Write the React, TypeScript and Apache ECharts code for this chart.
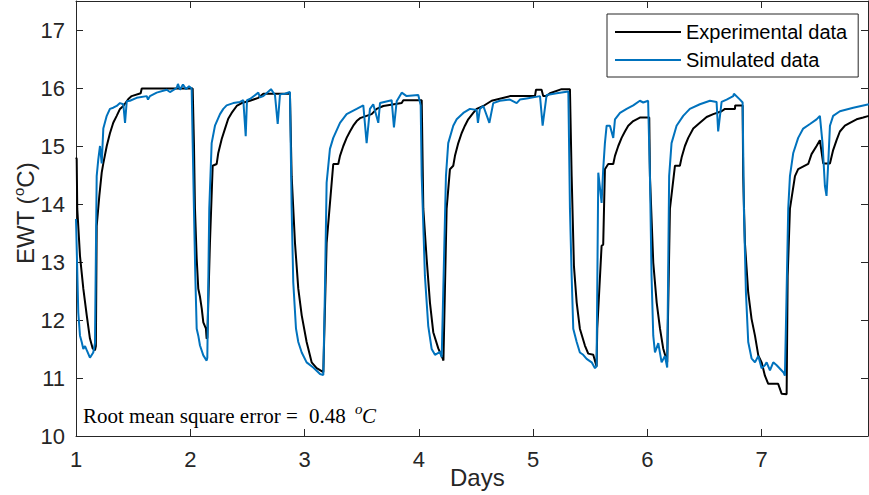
import React, { useEffect, useRef } from "react";
import * as echarts from "echarts";

// Days tick labels and EWT tick labels
const xTicks = [1, 2, 3, 4, 5, 6, 7];
const yTicks = [10, 11, 12, 13, 14, 15, 16, 17];

// Experimental data: [day, EWT °C]
const experimentalData: [number, number][] = [
  [1.0, 14.8], [1.006, 14.78], [1.011, 13.92], [1.035, 13.1], [1.064, 12.54], [1.094, 12.08],
  [1.122, 11.68], [1.146, 11.51], [1.166, 11.48], [1.174, 11.55], [1.181, 13.62], [1.204, 14.14],
  [1.225, 14.54], [1.239, 14.7], [1.269, 15.0], [1.297, 15.22], [1.326, 15.4], [1.356, 15.52],
  [1.385, 15.64], [1.414, 15.69], [1.458, 15.81], [1.487, 15.86], [1.566, 15.91], [1.575, 15.99],
  [2.021, 15.99], [2.032, 15.05], [2.041, 13.92], [2.056, 13.06], [2.07, 12.54], [2.085, 12.4],
  [2.1, 12.2], [2.114, 11.96], [2.137, 11.85], [2.143, 11.68], [2.149, 11.69], [2.172, 13.33],
  [2.196, 14.66], [2.231, 14.69], [2.245, 14.88], [2.275, 15.12], [2.304, 15.3], [2.332, 15.47],
  [2.362, 15.57], [2.406, 15.69], [2.45, 15.74], [2.522, 15.78], [2.595, 15.83], [2.639, 15.9],
  [2.872, 15.9], [2.887, 14.48], [2.916, 13.33], [2.945, 12.54], [2.975, 12.08], [3.018, 11.62],
  [3.062, 11.27], [3.106, 11.17], [3.164, 11.1], [3.193, 13.33], [3.251, 14.69], [3.295, 14.69],
  [3.31, 14.83], [3.339, 15.0], [3.368, 15.14], [3.397, 15.25], [3.426, 15.35], [3.456, 15.43],
  [3.485, 15.48], [3.587, 15.55], [3.631, 15.64], [3.689, 15.69], [3.85, 15.74], [3.864, 15.79],
  [4.025, 15.79], [4.039, 13.92], [4.068, 13.06], [4.097, 12.3], [4.126, 11.79], [4.17, 11.51],
  [4.208, 11.34], [4.215, 11.3], [4.243, 13.92], [4.272, 14.6], [4.301, 14.66], [4.316, 14.83],
  [4.345, 15.05], [4.374, 15.22], [4.403, 15.35], [4.432, 15.46], [4.476, 15.57], [4.506, 15.64],
  [4.564, 15.69], [4.637, 15.78], [4.797, 15.86], [5.016, 15.86], [5.025, 15.97], [5.074, 15.97],
  [5.088, 15.86], [5.118, 15.86], [5.147, 15.91], [5.249, 15.98], [5.322, 15.98], [5.337, 14.48],
  [5.357, 12.93], [5.381, 12.3], [5.409, 11.85], [5.453, 11.56], [5.482, 11.42], [5.526, 11.4],
  [5.555, 11.2], [5.561, 11.85], [5.599, 13.28], [5.613, 13.3], [5.628, 14.6], [5.657, 14.69],
  [5.701, 14.69], [5.716, 14.83], [5.745, 15.0], [5.774, 15.14], [5.803, 15.25], [5.832, 15.35],
  [5.876, 15.43], [5.934, 15.49], [6.016, 15.49], [6.022, 14.48], [6.051, 12.99], [6.081, 12.3],
  [6.11, 11.85], [6.138, 11.51], [6.173, 11.27], [6.197, 13.92], [6.241, 14.66], [6.284, 14.66],
  [6.299, 14.8], [6.328, 15.0], [6.357, 15.14], [6.401, 15.3], [6.459, 15.4], [6.518, 15.5],
  [6.576, 15.55], [6.649, 15.6], [6.678, 15.64], [6.766, 15.64], [6.768, 15.7], [6.833, 15.7],
  [6.838, 14.48], [6.853, 13.33], [6.882, 12.47], [6.911, 12.02], [6.941, 11.73], [6.97, 11.39],
  [6.999, 11.27], [7.028, 11.04], [7.057, 10.9], [7.144, 10.9], [7.174, 10.73], [7.218, 10.72],
  [7.227, 12.76], [7.247, 13.92], [7.291, 14.48], [7.319, 14.6], [7.407, 14.69], [7.436, 14.86],
  [7.48, 15.0], [7.509, 15.1], [7.538, 14.7], [7.597, 14.7], [7.625, 14.93], [7.655, 15.1],
  [7.684, 15.25], [7.728, 15.35], [7.772, 15.4], [7.83, 15.46], [7.888, 15.49], [7.938, 15.52],
];

// Simulated data: [day, EWT °C]
const simulatedData: [number, number][] = [
  [1.0, 13.74], [1.02, 12.13], [1.035, 11.73], [1.05, 11.62], [1.064, 11.5], [1.079, 11.55],
  [1.094, 11.48], [1.122, 11.35], [1.151, 11.44], [1.166, 11.6], [1.181, 14.48], [1.195, 14.77],
  [1.21, 15.0], [1.225, 14.7], [1.239, 15.3], [1.269, 15.52], [1.297, 15.64], [1.326, 15.66],
  [1.356, 15.69], [1.385, 15.74], [1.414, 15.72], [1.429, 15.4], [1.444, 15.77], [1.472, 15.78],
  [1.531, 15.83], [1.619, 15.86], [1.63, 15.8], [1.647, 15.86], [1.706, 15.92], [1.794, 15.97],
  [1.822, 15.93], [1.881, 16.0], [1.892, 16.07], [1.91, 15.97], [1.936, 16.06], [1.962, 15.98],
  [1.989, 16.03], [2.012, 15.99], [2.021, 15.05], [2.032, 13.92], [2.044, 12.76], [2.056, 11.85],
  [2.07, 11.73], [2.085, 11.56], [2.114, 11.39], [2.143, 11.3], [2.149, 11.35], [2.166, 13.92],
  [2.187, 15.05], [2.216, 15.35], [2.26, 15.55], [2.289, 15.64], [2.318, 15.7], [2.376, 15.74],
  [2.435, 15.76], [2.464, 15.79], [2.485, 15.17], [2.496, 15.79], [2.522, 15.81], [2.595, 15.92],
  [2.61, 15.84], [2.639, 15.86], [2.706, 15.98], [2.741, 15.88], [2.765, 15.38], [2.785, 15.89],
  [2.829, 15.9], [2.872, 15.93], [2.887, 13.92], [2.901, 12.65], [2.925, 11.85], [2.945, 11.62],
  [2.975, 11.44], [3.018, 11.27], [3.076, 11.18], [3.135, 11.07], [3.164, 11.05], [3.178, 12.5],
  [3.193, 14.37], [3.222, 14.95], [3.251, 15.14], [3.31, 15.4], [3.368, 15.55], [3.456, 15.64],
  [3.514, 15.7], [3.543, 15.05], [3.572, 15.64], [3.601, 15.72], [3.645, 15.4], [3.66, 15.74],
  [3.762, 15.79], [3.782, 15.32], [3.806, 15.77], [3.85, 15.92], [3.893, 15.86], [3.995, 15.88],
  [4.016, 15.7], [4.025, 14.48], [4.053, 12.76], [4.082, 11.9], [4.112, 11.5], [4.141, 11.4],
  [4.185, 11.45], [4.2, 11.36], [4.237, 14.48], [4.257, 15.05], [4.301, 15.35], [4.331, 15.46],
  [4.389, 15.57], [4.447, 15.64], [4.506, 15.62], [4.517, 15.4], [4.534, 15.64], [4.564, 15.69],
  [4.617, 15.4], [4.651, 15.74], [4.709, 15.78], [4.797, 15.8], [4.856, 15.74], [4.884, 15.8],
  [4.943, 15.82], [5.06, 15.86], [5.083, 15.35], [5.118, 15.88], [5.206, 15.91], [5.308, 15.94],
  [5.322, 13.92], [5.337, 12.76], [5.351, 11.85], [5.381, 11.62], [5.409, 11.44], [5.438, 11.4],
  [5.468, 11.33], [5.512, 11.27], [5.541, 11.17], [5.555, 11.2], [5.57, 14.54], [5.599, 14.02],
  [5.613, 14.6], [5.628, 15.05], [5.643, 15.35], [5.672, 15.35], [5.701, 15.14], [5.716, 15.46],
  [5.76, 15.57], [5.818, 15.64], [5.876, 15.7], [5.934, 15.78], [5.963, 15.75], [6.006, 15.78],
  [6.022, 14.48], [6.036, 12.76], [6.051, 11.73], [6.066, 11.44], [6.095, 11.6], [6.124, 11.27],
  [6.153, 11.38], [6.173, 11.18], [6.19, 14.48], [6.211, 15.05], [6.255, 15.35], [6.313, 15.52],
  [6.371, 15.64], [6.459, 15.72], [6.547, 15.78], [6.605, 15.76], [6.619, 15.25], [6.649, 15.76],
  [6.693, 15.8], [6.751, 15.86], [6.757, 15.9], [6.81, 15.8], [6.833, 15.75], [6.844, 13.92],
  [6.862, 12.47], [6.882, 11.62], [6.911, 11.34], [6.941, 11.27], [6.97, 11.38], [6.999, 11.17],
  [7.028, 11.22], [7.043, 11.27], [7.072, 11.13], [7.101, 11.27], [7.131, 11.22], [7.189, 11.1],
  [7.203, 11.04], [7.217, 12.4], [7.232, 13.92], [7.247, 14.48], [7.276, 14.88], [7.319, 15.14],
  [7.363, 15.3], [7.422, 15.38], [7.48, 15.46], [7.509, 15.52], [7.532, 15.05], [7.553, 14.31],
  [7.567, 14.14], [7.582, 14.7], [7.597, 15.35], [7.625, 15.52], [7.684, 15.6], [7.801, 15.66],
  [7.938, 15.72],
];

const seriesNames = ["Experimental data", "Simulated data"];
const rmseText = "0.48";

const AX = "#262626";
const SANS = "'Liberation Sans', Arial, sans-serif";
const SERIF = "'Liberation Serif', 'Times New Roman', serif";

export default function App() {
  const ref = useRef<HTMLDivElement>(null);
  useEffect(() => {
    if (!ref.current) return;
    const chart = echarts.init(ref.current, null, { renderer: "svg" });
    const axisCommon = (labels: boolean, tickVals: number[]) => ({
      type: "value" as const,
      interval: 1,
      axisLine: { show: true, onZero: false, lineStyle: { color: AX, width: 1 } },
      axisTick: { show: true, inside: true, length: 7, lineStyle: { color: AX, width: 1 } },
      splitLine: { show: false },
      axisLabel: {
        show: labels,
        fontFamily: SANS,
        fontSize: 22,
        color: AX,
        showMaxLabel: false,
        formatter: (v: number) => (tickVals.indexOf(v) >= 0 ? String(v) : ""),
      },
    });
    chart.setOption({
      animation: false,
      backgroundColor: "#ffffff",
      grid: { left: 76, right: 1, top: 1, bottom: 59, containLabel: false },
      xAxis: [
        { ...axisCommon(true, xTicks), min: 1, max: 7.93, position: "bottom", axisLabel: { ...axisCommon(true, xTicks).axisLabel, margin: 12 } },
        { ...axisCommon(false, xTicks), min: 1, max: 7.93, position: "top" },
      ],
      yAxis: [
        { ...axisCommon(true, yTicks), min: 10, max: 17.5, position: "left", axisLabel: { ...axisCommon(true, yTicks).axisLabel, margin: 11 } },
        { ...axisCommon(false, yTicks), min: 10, max: 17.5, position: "right" },
      ],
      legend: {
        orient: "vertical",
        left: 607,
        top: 14,
        padding: [7, 11, 6, 8],
        icon: "rect",
        itemWidth: 66,
        itemHeight: 2,
        itemGap: 6,
        backgroundColor: "#ffffff",
        borderColor: AX,
        borderWidth: 1,
        borderRadius: 0,
        textStyle: { fontFamily: SANS, fontSize: 20, color: "#000", lineHeight: 22 },
        data: seriesNames,
      },
      series: [
        {
          name: seriesNames[0],
          type: "line",
          xAxisIndex: 0,
          yAxisIndex: 0,
          data: experimentalData,
          symbol: "none",
          showSymbol: false,
          lineStyle: { color: "#000000", width: 2 },
          itemStyle: { color: "#000000" },
          z: 2,
        },
        {
          name: seriesNames[1],
          type: "line",
          xAxisIndex: 0,
          yAxisIndex: 0,
          data: simulatedData,
          symbol: "none",
          showSymbol: false,
          lineStyle: { color: "#0072BD", width: 2 },
          itemStyle: { color: "#0072BD" },
          z: 3,
        },
      ],
      graphic: [
        {
          type: "text",
          left: 450,
          top: 465,
          style: { text: "Days", fontFamily: SANS, fontSize: 24, fill: AX },
        },
        {
          type: "text",
          x: 11,
          y: 264,
          rotation: Math.PI / 2,
          style: {
            text: "{n|EWT (}{s|o}{n|C)}",
            fill: AX,
            rich: {
              n: { fontFamily: SANS, fontSize: 24, fill: AX, lineHeight: 26, verticalAlign: "bottom" },
              s: { fontFamily: SANS, fontSize: 15, fill: AX, lineHeight: 26, verticalAlign: "top" },
            },
          },
        },
        {
          type: "text",
          x: 83,
          y: 405,
          style: { text: "Root mean square error =", fontFamily: SERIF, fontSize: 21, fill: "#000" },
        },
        {
          type: "text",
          x: 309,
          y: 405,
          style: { text: rmseText, fontFamily: SERIF, fontSize: 21, fill: "#000" },
        },
        {
          type: "text",
          x: 355,
          y: 401,
          style: { text: "o", fontFamily: SERIF, fontStyle: "italic", fontSize: 15, fill: "#000" },
        },
        {
          type: "text",
          x: 362,
          y: 405,
          style: { text: "C", fontFamily: SERIF, fontStyle: "italic", fontSize: 21, fill: "#000" },
        },
      ],
    });
    return () => chart.dispose();
  }, []);
  return (
    <div
      ref={ref}
      style={{ position: "fixed", left: 0, top: 0, width: 869, height: 495, background: "#fff" }}
    />
  );
}
